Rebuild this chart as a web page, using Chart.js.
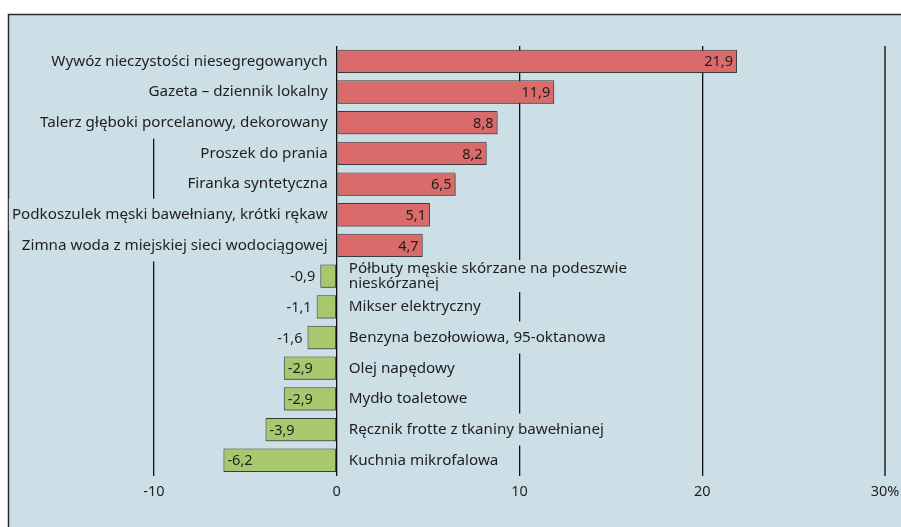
<!DOCTYPE html>
<html>
<head>
<meta charset="utf-8">
<script src="https://cdn.jsdelivr.net/npm/chart.js@4"></script>
<style>
  body { margin: 0; background: #fff; }
  canvas { display: block; }
</style>
</head>
<body>
<canvas id="chart" width="901" height="527"></canvas>
<script>
// Dane z wykresu
const categories = [
    "Wywóz nieczystości niesegregowanych",
    "Gazeta – dziennik lokalny",
    "Talerz głęboki porcelanowy, dekorowany",
    "Proszek do prania",
    "Firanka syntetyczna",
    "Podkoszulek męski bawełniany, krótki rękaw",
    "Zimna woda z miejskiej sieci wodociągowej",
    ["Półbuty męskie skórzane na podeszwie", "nieskórzanej"],
    "Mikser elektryczny",
    "Benzyna bezołowiowa, 95-oktanowa",
    "Olej napędowy",
    "Mydło toaletowe",
    "Ręcznik frotte z tkaniny bawełnianej",
    "Kuchnia mikrofalowa"
];
const values = [21.9, 11.9, 8.8, 8.2, 6.5, 5.1, 4.7, -0.9, -1.1, -1.6, -2.9, -2.9, -3.9, -6.2];
const xTicks = [-10, 0, 10, 20, 30];

const panelColor = "#cddfe6";
const textColor = "#1e1e1e";
const font = "Noto Sans";

// Tlo panelu z ramka
const panelPlugin = {
    id: "panel",
    beforeDraw(chart) {
        const ctx = chart.ctx;
        ctx.save();
        ctx.fillStyle = "#fff";
        ctx.fillRect(0, 0, chart.width, chart.height);
        ctx.fillStyle = panelColor;
        ctx.fillRect(8, 14, chart.width - 8, chart.height - 14);
        ctx.strokeStyle = "#2a2a2a";
        ctx.lineWidth = 1.5;
        ctx.beginPath();
        ctx.moveTo(8.5, chart.height);
        ctx.lineTo(8.5, 14.5);
        ctx.lineTo(chart.width, 14.5);
        ctx.stroke();
        ctx.restore();
    }
};

// Cien pod slupkami
const shadowPlugin = {
    id: "shadow",
    beforeDatasetDraw(chart) {
        const ctx = chart.ctx;
        ctx.save();
        ctx.shadowColor = "rgba(60,60,60,0.45)";
        ctx.shadowOffsetX = 1;
        ctx.shadowOffsetY = 2;
        ctx.shadowBlur = 1;
    },
    afterDatasetDraw(chart) {
        chart.ctx.restore();
    }
};

// Etykiety kategorii i wartosci
const labelPlugin = {
    id: "labels",
    afterDatasetsDraw(chart) {
        const ctx = chart.ctx;
        const xScale = chart.scales.x;
        const zero = xScale.getPixelForValue(0);
        const bars = chart.getDatasetMeta(0).data;
        ctx.save();
        ctx.textBaseline = "middle";
        bars.forEach((bar, i) => {
            const v = values[i];
            const lines = Array.isArray(categories[i]) ? categories[i] : [categories[i]];
            const lh = 15;
            ctx.font = "15.2px '" + font + "'";
            const w = Math.max(...lines.map(l => ctx.measureText(l).width));
            const tx = v >= 0 ? zero - 9 : zero + 12;
            const left = v >= 0 ? tx - w - 3 : tx - 3;
            // tlo etykiety zaslania linie siatki
            ctx.fillStyle = panelColor;
            ctx.fillRect(left, bar.y - 16, w + 6, 32);
            ctx.fillStyle = textColor;
            ctx.textAlign = v >= 0 ? "right" : "left";
            lines.forEach((l, k) => {
                ctx.fillText(l, tx, bar.y + (k - (lines.length - 1) / 2) * lh);
            });

            // wartosc
            ctx.font = "14.5px '" + font + "'";
            const txt = v.toFixed(1).replace(".", ",");
            if (v >= 0) {
                ctx.textAlign = "right";
                ctx.fillText(txt, bar.x - 4, bar.y + 1);
            } else if (bar.base - bar.x > 40) {
                ctx.textAlign = "left";
                ctx.fillText(txt, bar.x + 4, bar.y + 1);
            } else {
                ctx.textAlign = "right";
                ctx.fillText(txt, bar.x - 5, bar.y + 1);
            }
        });
        ctx.restore();
    }
};

new Chart(document.getElementById("chart"), {
    type: "bar",
    data: {
        labels: categories,
        datasets: [{
            data: values,
            backgroundColor: values.map(v => v >= 0 ? "#db6b6b" : "#a8c86e"),
            borderColor: "#3a3a3a",
            borderWidth: 1,
            borderSkipped: false,
            barPercentage: 0.76,
            categoryPercentage: 1
        }]
    },
    options: {
        indexAxis: "y",
        responsive: false,
        animation: false,
        layout: { padding: { left: 154, right: 16, top: 46, bottom: 18 } },
        plugins: {
            legend: { display: false },
            tooltip: { enabled: false }
        },
        scales: {
            x: {
                min: -10,
                max: 30,
                afterBuildTicks(axis) {
                    axis.ticks = xTicks.map(v => ({ value: v }));
                },
                afterFit(axis) {
                    // etykieta 30% moze wychodzic poza krawedz
                    axis.paddingLeft = 0;
                    axis.paddingRight = 0;
                },
                border: { display: false },
                grid: {
                    drawTicks: false,
                    color: ctx => ctx.tick && ctx.tick.value === 30 ? "#4b5154" : "#111",
                    lineWidth: ctx => ctx.tick && ctx.tick.value === 30 ? 2 : 1.3
                },
                ticks: {
                    padding: 8,
                    color: textColor,
                    font: { family: font, size: 14.5 },
                    callback: v => v === 30 ? "30%" : v
                }
            },
            y: {
                display: false
            }
        }
    },
    plugins: [panelPlugin, shadowPlugin, labelPlugin]
});
</script>
</body>
</html>
